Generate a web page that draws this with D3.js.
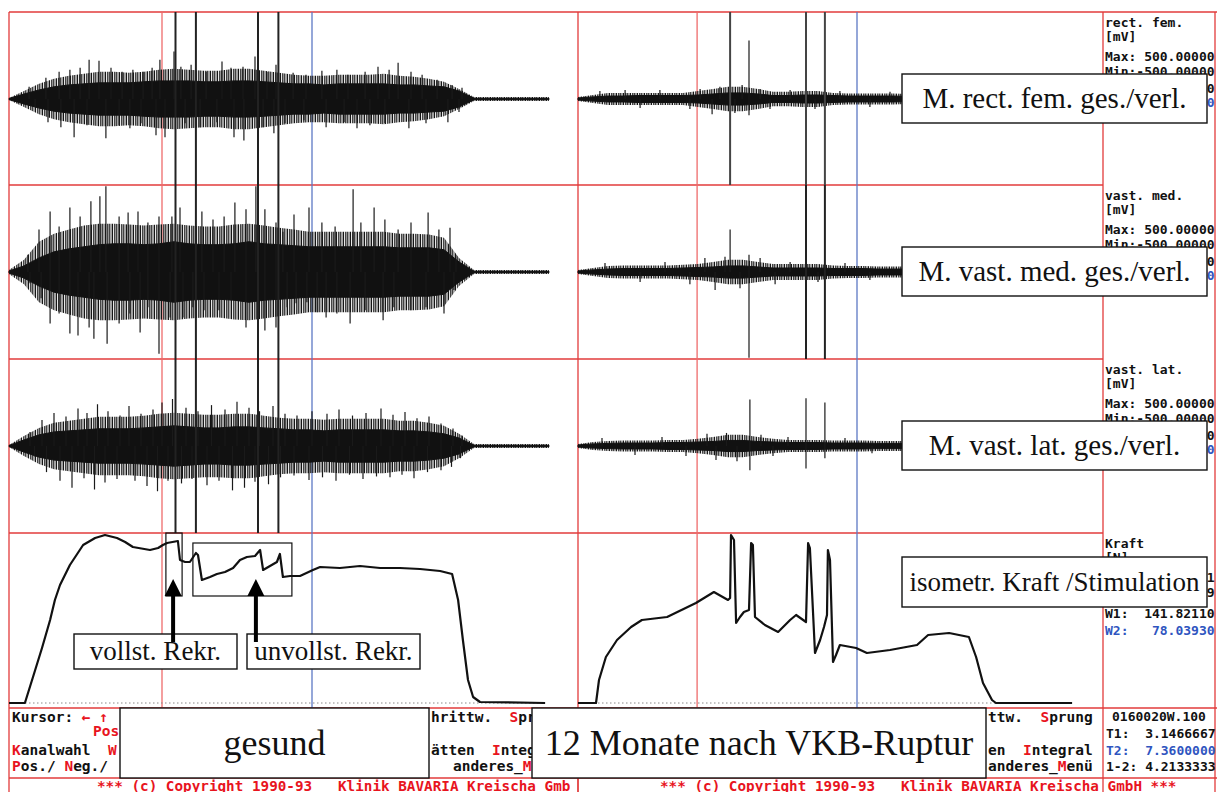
<!DOCTYPE html>
<html>
<head>
<meta charset="utf-8">
<script src="https://cdn.jsdelivr.net/npm/d3@7"></script>
<style>
  body { margin: 0; background: #fff; }
  svg { display: block; }
  text { white-space: pre; }
</style>
</head>
<body>
<div id="chart"></div>
<script>
// ---- data ----
// envelope sample times (s), left = gesund, right = 12 Monate nach VKB-Ruptur
const emgTimeL = [0,0.5,1,1.5,2,2.5,3,3.5,4,4.5,5,5.5,6,6.5,7,7.5,8,8.5,9,9.5,10,10.5,11,11.5,12,12.5,13,13.5,14,14.5,15,15.5,16,16.5,17,17.5,18];
const emgTimeR = [0,0.5,1,1.5,2,2.5,3,3.5,4,4.5,5,5.5,6,6.5,7,7.5,8,8.5,9,9.5,10,10.5,11,11.5,12,12.5,13,13.5,14,14.5,15,15.5,16,16.5];

// dense core of the EMG (half amplitude, mV)
const rfCoreL = [3,29,52,70,81,87,93,93,93,99,104,104,104,99,99,104,104,99,93,87,87,81,87,87,87,87,81,81,75,70,46,4,4,4,4,4,4];
const vmCoreL = [6,35,81,116,133,145,157,162,162,157,162,174,162,157,157,162,174,162,157,151,145,145,145,145,145,145,139,139,139,128,58,4,4,4,4,4,4];
const vlCoreL = [3,35,64,81,87,93,99,99,99,104,110,116,110,104,104,110,110,104,99,93,93,87,93,93,93,93,87,87,81,70,46,4,4,4,4,4,4];
const rfCoreR = [6,12,17,17,20,20,20,20,23,29,35,35,29,20,20,23,23,20,17,17,17,17,15,15,15,15,15,15,15,15,15,12,12,10];
const vmCoreR = [6,12,17,20,20,20,20,23,26,29,35,35,29,23,23,23,23,20,20,20,17,17,17,15,15,15,15,15,15,15,15,15,12,10];
const vlCoreR = [6,12,15,17,17,17,20,20,23,26,32,32,26,23,20,20,20,17,17,17,15,15,15,15,15,12,12,12,12,12,12,12,10,10];

// typical extent of the hairy fringe around the core (mV)
const rfFringeL = [6,46,87,116,133,145,157,157,151,157,168,174,168,162,162,174,174,162,151,139,133,133,139,139,139,145,133,128,116,99,58,12,12,12,12,12,12];
const vmFringeL = [12,70,174,220,244,267,278,278,273,267,273,278,267,261,261,273,278,267,255,244,232,232,232,232,232,232,220,220,215,197,81,12,12,12,12,12,12];
const vlFringeL = [6,58,104,133,145,157,168,168,168,174,186,191,186,180,180,186,186,174,162,157,157,151,157,157,157,157,145,145,133,116,70,12,12,12,12,12,12];
const rfFringeR = [12,23,35,35,35,35,35,35,46,58,70,70,58,41,41,46,46,35,32,32,32,32,29,29,29,29,29,29,29,29,29,23,23,17];
const vmFringeR = [12,23,35,38,38,38,38,41,46,58,70,70,58,46,46,46,46,38,35,35,32,32,32,29,29,29,29,29,29,29,29,29,23,17];
const vlFringeR = [12,23,29,32,32,32,35,35,41,52,64,64,52,41,35,35,35,32,32,32,29,29,29,29,29,26,26,26,26,26,26,26,20,17];

// single peaks sticking out of the fringe [t (s), mV]
const rfSpikesL = [[0.67,70],[1.23,122],[1.67,157],[2.03,168],[2.37,180],[2.67,226],[3.0,220],[3.4,180],[3.77,157],[4.13,168],[4.47,157],[4.77,180],[5.03,226],[5.5,273],[5.73,186],[6.07,197],[6.57,157],[7.1,215],[7.4,180],[7.8,186],[8.2,244],[8.6,157],[8.9,197],[9.47,151],[9.9,139],[10.43,162],[10.93,168],[11.3,139],[11.87,157],[12.3,186],[12.67,168],[12.97,209],[13.4,157],[13.77,139],[14.27,110],[14.77,81],[15.1,64],
  [0.87,-46],[1.3,-133],[1.73,-162],[2.17,-220],[2.6,-151],[3.23,-226],[3.67,-151],[4.03,-168],[4.4,-139],[4.9,-209],[5.2,-220],[5.87,-139],[6.37,-162],[6.93,-133],[7.5,-220],[7.83,-238],[8.47,-162],[8.83,-197],[9.2,-139],[9.83,-122],[10.57,-162],[11.17,-133],[11.6,-168],[12.03,-151],[12.53,-139],[13.33,-168],[13.9,-139],[14.63,-133],[15.0,-75]];
const vmSpikesL = [[0.63,99],[1.0,244],[1.37,348],[1.67,261],[2.03,371],[2.37,319],[2.73,406],[3.03,435],[3.23,493],[3.67,319],[3.97,342],[4.3,348],[4.63,284],[5.0,319],[5.43,319],[5.7,371],[6.43,348],[6.8,302],[7.17,319],[7.53,400],[7.9,360],[8.23,493],[8.53,360],[8.9,284],[9.13,232],[9.5,331],[10.0,371],[10.43,284],[10.87,261],[11.47,476],[11.73,284],[12.17,371],[12.53,302],[12.97,244],[13.4,284],[13.97,342],[14.33,244],[14.7,255],[14.9,99],
  [0.7,-64],[1.07,-151],[1.37,-296],[1.67,-238],[2.03,-354],[2.3,-365],[2.67,-319],[2.83,-383],[3.27,-412],[3.67,-296],[4.03,-238],[4.37,-348],[4.63,-203],[5.0,-470],[5.37,-261],[5.8,-261],[6.13,-203],[6.5,-220],[7.0,-220],[7.4,-162],[7.9,-319],[8.53,-336],[8.9,-319],[9.27,-203],[9.57,-180],[9.93,-174],[10.27,-232],[10.57,-261],[10.93,-238],[11.37,-296],[11.87,-220],[12.47,-278],[12.83,-203],[13.4,-220],[13.9,-203],[14.5,-238],[14.83,-104]];
const vlSpikesL = [[0.7,80],[1.1,150],[1.5,190],[1.9,170],[2.3,215],[2.6,190],[2.95,240],[3.3,200],[3.7,175],[4.0,230],[4.4,185],[4.8,210],[5.1,250],[5.45,270],[5.9,220],[6.3,200],[6.75,235],[7.2,210],[7.6,255],[8.0,220],[8.35,200],[8.8,230],[9.2,185],[9.6,175],[10.1,200],[10.6,185],[11.0,210],[11.45,175],[11.9,190],[12.4,215],[12.8,180],[13.2,195],[13.6,160],[14.0,170],[14.4,130],[14.8,100],[15.1,60],
  [0.85,-60],[1.25,-150],[1.7,-200],[2.1,-240],[2.5,-185],[2.85,-250],[3.2,-210],[3.6,-190],[4.2,-200],[4.6,-230],[4.95,-260],[5.3,-200],[5.75,-215],[6.1,-190],[6.6,-225],[7.0,-200],[7.45,-255],[7.85,-240],[8.2,-205],[8.65,-220],[9.05,-180],[9.5,-170],[10.0,-195],[10.45,-180],[10.9,-200],[11.35,-165],[11.8,-190],[12.25,-175],[12.7,-180],[13.1,-165],[13.5,-185],[13.95,-150],[14.4,-140],[14.75,-120],[15.05,-70]];
const rfSpikesR = [[0.73,46],[1.57,52],[2.07,-52],[2.73,52],[3.73,-58],[4.07,58],[4.47,-87],[4.73,70],[5.23,-81],[5.47,81],[5.7,336],[5.7,-93],[6.07,58],[6.4,-58],[7.07,52],[7.9,-58],[8.73,46],[9.73,-46],[10.4,41]];
const vmSpikesR = [[0.9,52],[2.07,-58],[2.9,58],[3.73,-70],[4.23,81],[4.57,-104],[4.9,87],[5.07,244],[5.4,-93],[5.7,99],[5.7,-493],[6.07,81],[6.57,-70],[7.07,58],[8.0,-58],[8.9,52],[9.73,-46]];
const vlSpikesR = [[0.8,46],[1.9,-52],[2.8,52],[3.6,-58],[4.3,70],[4.6,-81],[4.95,75],[5.3,-87],[5.73,267],[5.73,-139],[6.1,64],[6.5,-58],[7.0,52],[7.6,275],[7.6,-130],[8.23,250],[8.23,-70],[8.9,46],[9.8,-41]];

// stimulation artefacts (s)
const stimL = [5.55, 6.23, 8.3, 8.98];
const stimRfR = [5.07, 7.6, 8.23];
const stimVmR = [7.6, 8.23];

// cursors T1 / T2 (s)
const cursorL = [5.1, 10.1];
const cursorR = [3.97, 9.3];

// isometric force (N)
const forceTimeL = [0,0.53,0.8,1.1,1.37,1.53,1.7,2.03,2.47,2.87,3.2,3.6,3.87,4.13,4.7,4.97,5.13,5.27,5.63,5.7,5.87,6.03,6.23,6.3,6.43,6.7,6.93,7.2,7.47,7.7,7.93,8.2,8.37,8.47,8.7,8.93,9.03,9.13,9.37,9.7,10.13,10.37,11.03,11.7,12.37,13.03,13.7,14.37,14.77,14.97,15.13,15.3,15.47,15.7,17.87];
const forceL = [0,0,26,55,83,103,118,138,158,165,168,165,161,156,153,155,158,160,162,143,141,141,150,148,123,126,129,131,135,143,146,147,153,133,137,141,149,126,127,127,133,136,135,137,135,135,134,132,129,103,63,23,6,1,0];
const forceTimeR = [0,0.6,0.7,0.93,1.3,1.77,2.13,2.97,3.93,4.53,5.0,5.07,5.1,5.2,5.27,5.4,5.53,5.7,5.77,5.83,5.9,6.23,6.67,7.07,7.27,7.6,7.67,7.73,7.9,8.07,8.2,8.3,8.33,8.4,8.5,8.6,8.73,9.27,9.63,10.4,11.3,11.67,12.37,13.03,13.27,13.5,13.8,13.93,16.47];
const forceR = [0,0,23,46,63,76,83,86,100,111,103,105,168,163,80,86,91,93,160,158,86,78,71,83,88,81,160,155,50,63,76,88,153,143,41,48,58,55,50,53,58,68,70,66,46,20,3,0,0];

// recruitment annotation [t0, t1, N0, N1] and arrow times
const recruitBoxes = [[5.23, 5.77, 107, 170], [6.13, 9.43, 107, 160]];
const arrowTimes = [5.47, 8.23];

const channelNames = ["rect. fem.", "vast. med.", "vast. lat."];
const channelLabels = ["M. rect. fem. ges./verl.", "M. vast. med. ges./verl.", "M. vast. lat. ges./verl."];
const rangeLines = ["Max: 500.00000", "Min:-500.00000", "W1:    0.00000", "W2:    0.00000"];
const forceInfo = ["Kraft", "[N]", "Max: 170.00051", "Min:  -5.00019", "W1:  141.82110", "W2:   78.03930"];
const timeInfo = ["0160020W.100", "T1:  3.1466667", "T2:  7.3600000", "1-2: 4.2133333"];

// ---- layout ----
const WIDTH = 1217, HEIGHT = 792;
const RED = "#e23b3b", LRED = "#ee6b6b", BLUE = "#5c78c4", TBLUE = "#2f55c0", MRED = "#e8141e";
const MONO = "'DejaVu Sans Mono', monospace";
const SERIF = "'Liberation Serif', 'Times New Roman', serif";
const PANEL_TOPS = [12, 185, 359];
const PANEL_H = 174;
const FORCE_TOP = 533, FORCE_BOT = 708;

const xL = d3.scaleLinear().domain([0, 19]).range([9, 579]);
const xR = d3.scaleLinear().domain([0, 17.5]).range([578, 1103]);
const yEmg = PANEL_TOPS.map(t => d3.scaleLinear().domain([-500, 500]).range([t + PANEL_H, t]));
const yF = d3.scaleLinear().domain([0, 170]).range([703, 533]);

const svg = d3.select("#chart").append("svg")
  .attr("width", WIDTH).attr("height", HEIGHT);

// vertical hatch used for the hairy EMG fringe
const hair = svg.append("defs").append("pattern")
  .attr("id", "hair").attr("patternUnits", "userSpaceOnUse")
  .attr("width", 7).attr("height", 20);
[[0, 1.1], [2.2, 0.9], [3.6, 1.2], [5.6, 0.8]].forEach(s =>
  hair.append("rect").attr("x", s[0]).attr("width", s[1]).attr("height", 20).attr("fill", "#151515"));

// grid
const grid = svg.append("g").attr("stroke", RED).attr("stroke-width", 1.3);
[12, 708, 778].forEach(y => grid.append("line").attr("x1", 9).attr("x2", WIDTH).attr("y1", y).attr("y2", y));
[185, 359, 533].forEach(y => grid.append("line").attr("x1", 9).attr("x2", 1103).attr("y1", y).attr("y2", y));
[9, 578, 1103, 1215].forEach(x => grid.append("line").attr("x1", x).attr("x2", x).attr("y1", 12).attr("y2", HEIGHT));

// cursors
function drawCursors(x, c) {
  svg.append("line").attr("x1", x(c[0])).attr("x2", x(c[0])).attr("y1", 12).attr("y2", FORCE_BOT)
    .attr("stroke", LRED).attr("stroke-width", 1.3);
  svg.append("line").attr("x1", x(c[1])).attr("x2", x(c[1])).attr("y1", 12).attr("y2", FORCE_BOT)
    .attr("stroke", BLUE).attr("stroke-width", 1.3);
}
drawCursors(xL, cursorL);
drawCursors(xR, cursorR);

// EMG traces
function drawEmg(x, y, times, core, fringe, spikes) {
  const g = svg.append("g");
  g.append("path")
    .datum(times.map((t, i) => [t, fringe[i]]))
    .attr("d", d3.area().x(d => x(d[0])).y0(d => y(-d[1])).y1(d => y(d[1])))
    .attr("fill", "url(#hair)");
  g.append("path")
    .datum(times.map((t, i) => [t, core[i]]))
    .attr("d", d3.area().x(d => x(d[0])).y0(d => y(-d[1])).y1(d => y(d[1])))
    .attr("fill", "#111").attr("stroke", "#111").attr("stroke-width", 1);
  g.selectAll("line").data(spikes).join("line")
    .attr("x1", d => x(d[0])).attr("x2", d => x(d[0]))
    .attr("y1", y(0)).attr("y2", d => y(d[1]))
    .attr("stroke", "#1a1a1a").attr("stroke-width", 1.2);
}
drawEmg(xL, yEmg[0], emgTimeL, rfCoreL, rfFringeL, rfSpikesL);
drawEmg(xL, yEmg[1], emgTimeL, vmCoreL, vmFringeL, vmSpikesL);
drawEmg(xL, yEmg[2], emgTimeL, vlCoreL, vlFringeL, vlSpikesL);
drawEmg(xR, yEmg[0], emgTimeR, rfCoreR, rfFringeR, rfSpikesR);
drawEmg(xR, yEmg[1], emgTimeR, vmCoreR, vmFringeR, vmSpikesR);
drawEmg(xR, yEmg[2], emgTimeR, vlCoreR, vlFringeR, vlSpikesR);

// stimulation artefacts
function drawStim(x, times, y0, y1, color) {
  svg.append("g").selectAll("line").data(times).join("line")
    .attr("x1", d => x(d)).attr("x2", d => x(d))
    .attr("y1", y0).attr("y2", y1)
    .attr("stroke", color).attr("stroke-width", 2);
}
drawStim(xL, stimL, 12, FORCE_TOP, "#222");
drawStim(xR, stimRfR, 12, 185, "#444");
drawStim(xR, stimVmR, 185, 359, "#222");

// force
svg.append("g").selectAll("line").data([[xL, 0, 17.87], [xR, 0, 16.47]]).join("line")
  .attr("x1", d => d[0](d[1])).attr("x2", d => d[0](d[2]))
  .attr("y1", yF(0)).attr("y2", yF(0))
  .attr("stroke", "#8a8a8a").attr("stroke-width", 1).attr("stroke-dasharray", "1.5,2.5");

function drawForce(x, times, vals) {
  svg.append("path")
    .datum(times.map((t, i) => [t, vals[i]]))
    .attr("d", d3.line().x(d => x(d[0])).y(d => yF(d[1])))
    .attr("fill", "none").attr("stroke", "#111").attr("stroke-width", 2.2)
    .attr("stroke-linejoin", "round");
}
drawForce(xL, forceTimeL, forceL);
drawForce(xR, forceTimeR, forceR);

// info column
const info = svg.append("g").attr("font-family", MONO).attr("font-size", "13px")
  .attr("font-weight", "bold").attr("fill", "#111");
channelNames.forEach((name, i) => {
  const top = PANEL_TOPS[i];
  const rows = [name, "[mV]"].concat(rangeLines);
  const offs = [10, 24, 44, 59, 76, 90];
  rows.forEach((r, j) => info.append("text").attr("x", 1105).attr("y", top + offs[j] + 4.5)
    .attr("fill", j === 5 ? TBLUE : "#111").text(r));
});
forceInfo.forEach((r, j) => {
  const offs = [10, 24, 44, 59, 80, 97];
  info.append("text").attr("x", 1105).attr("y", FORCE_TOP + offs[j] + 4.5)
    .attr("fill", j === 5 ? TBLUE : "#111").text(r);
});
timeInfo.forEach((r, j) => {
  const ys = [716, 733, 750, 766];
  info.append("text").attr("x", j === 0 ? 1112 : 1106).attr("y", ys[j] + 4.5)
    .attr("fill", j === 2 ? TBLUE : "#111").text(r);
});

// menu lines (only what is not covered by the label boxes)
const menu = svg.append("g").attr("font-family", MONO).attr("font-size", "14.5px")
  .attr("font-weight", "bold").attr("fill", "#111");
function menuText(x, y, parts) {
  const t = menu.append("text").attr("x", x).attr("y", y);
  parts.forEach(p => t.append("tspan").attr("fill", p[1] ? MRED : "#111").text(p[0]));
}
menuText(12, 722, [["Kursor: ", 0], ["\u2190 \u2191", 1]]);
menuText(93, 736, [["Pos", 1]]);
menuText(12, 755, [["K", 1], ["analwahl  ", 0], ["W", 1]]);
menuText(12, 771, [["P", 1], ["os./ ", 0], ["N", 1], ["eg./", 0]]);
menuText(431, 722, [["hrittw.  ", 0], ["S", 1], ["pr", 0]]);
menuText(431, 755, [["\u00e4tten  ", 0], ["I", 1], ["nteg", 0]]);
menuText(453, 771, [["anderes_", 0], ["M", 1]]);
menuText(988, 722, [["ttw.  ", 0], ["S", 1], ["prung", 0]]);
menuText(988, 755, [["en  ", 0], ["I", 1], ["ntegral", 0]]);
menuText(988, 771, [["anderes_", 0], ["M", 1], ["en\u00fc", 0]]);
const copy = svg.append("g").attr("font-family", MONO).attr("font-size", "14.3px")
  .attr("font-weight", "bold").attr("fill", MRED);
copy.append("text").attr("x", 97).attr("y", 791)
  .text("*** (c) Copyright 1990-93   Klinik BAVARIA Kreischa Gmb");
copy.append("text").attr("x", 660).attr("y", 791)
  .text("*** (c) Copyright 1990-93   Klinik BAVARIA Kreischa GmbH ***");
svg.append("line").attr("x1", 578).attr("x2", 578).attr("y1", 778).attr("y2", HEIGHT)
  .attr("stroke", RED).attr("stroke-width", 1.3);

// annotation boxes
function labelBox(x0, y0, x1, y1, text, size) {
  svg.append("rect").attr("x", x0).attr("y", y0).attr("width", x1 - x0).attr("height", y1 - y0)
    .attr("fill", "#fff").attr("stroke", "#111").attr("stroke-width", 1.4);
  svg.append("text").attr("x", (x0 + x1) / 2).attr("y", (y0 + y1) / 2 + size * 0.33)
    .attr("text-anchor", "middle").attr("font-family", SERIF).attr("font-size", size + "px")
    .attr("fill", "#111").text(text);
}
channelLabels.forEach((lab, i) => {
  const c = yEmg[i](0);
  labelBox(902, c - 25, 1207, c + 24, lab, 29);
});
labelBox(902, 557, 1207, 607, "isometr. Kraft /Stimulation", 27);
labelBox(74, 634, 237, 669, "vollst. Rekr.", 27);
labelBox(247, 634, 420, 669, "unvollst. Rekr.", 27);
labelBox(120, 708, 429, 778, "gesund", 36);
labelBox(532, 708, 986, 778, "12 Monate nach VKB-Ruptur", 36);

// recruitment frames and arrows
svg.append("g").selectAll("rect").data(recruitBoxes).join("rect")
  .attr("x", d => xL(d[0])).attr("y", d => yF(d[3]))
  .attr("width", d => xL(d[1]) - xL(d[0])).attr("height", d => yF(d[2]) - yF(d[3]))
  .attr("fill", "none").attr("stroke", "#111").attr("stroke-width", 1.2);
arrowTimes.forEach(t => {
  const x = xL(t);
  svg.append("line").attr("x1", x).attr("x2", x).attr("y1", 642).attr("y2", 592)
    .attr("stroke", "#000").attr("stroke-width", 4);
  svg.append("path").attr("d", `M${x - 8.5},596 L${x + 8.5},596 L${x},579 Z`).attr("fill", "#000");
});
</script>
</body>
</html>
